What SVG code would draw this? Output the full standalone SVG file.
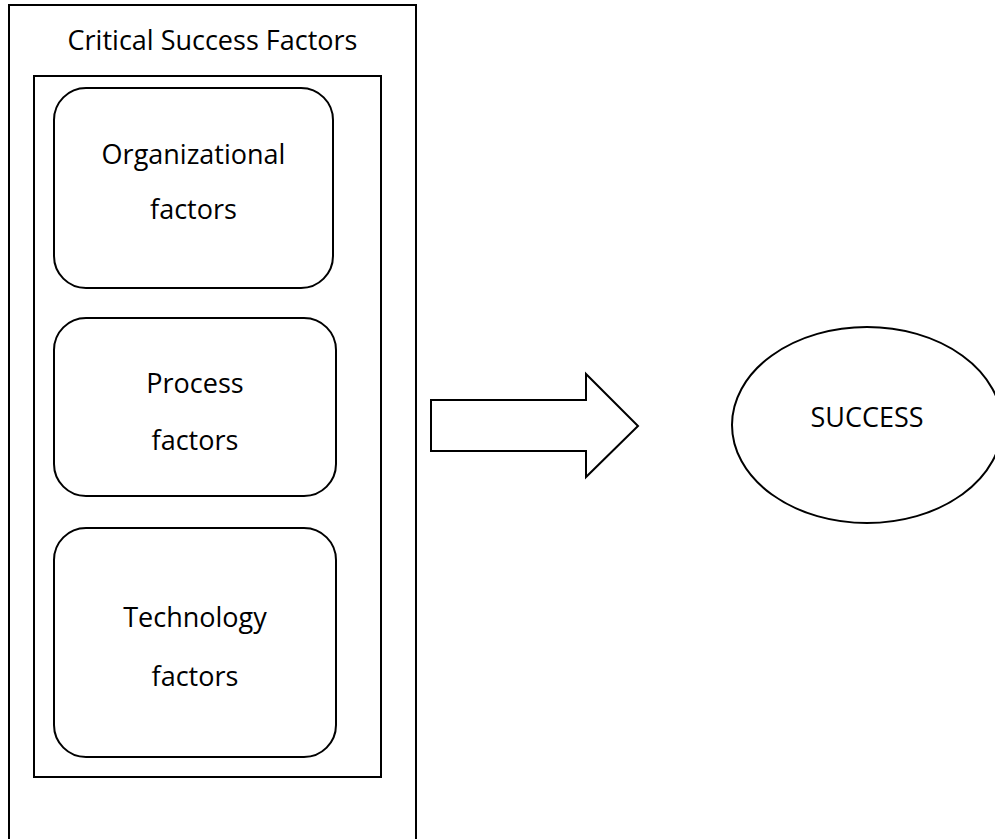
<svg xmlns="http://www.w3.org/2000/svg" width="995" height="839" viewBox="0 0 995 839">
  <style>
    .frame { fill: #ffffff; stroke: #000000; stroke-width: 2; }
    .box { fill: #ffffff; stroke: #000000; stroke-width: 2; }
    .label { font-family: "Open Sans", "Liberation Sans", sans-serif; font-size: 27px; fill: #000000; text-anchor: middle; }
  </style>
  <rect width="995" height="839" fill="#ffffff"/>

  <!-- outer container: open at the bottom edge -->
  <g id="csf-container">
    <rect class="frame" x="9" y="5" width="407" height="850"/>
    <text class="label" x="212.5" y="50">Critical Success Factors</text>
    <rect class="frame" x="34" y="76" width="347" height="701"/>
  </g>

  <g id="organizational">
    <rect class="box" x="54" y="88" width="279" height="200" rx="32" ry="32"/>
    <text class="label" x="193.5" y="164">Organizational</text>
    <text class="label" x="193.5" y="219">factors</text>
  </g>

  <g id="process">
    <rect class="box" x="54" y="318" width="282" height="178" rx="32" ry="32"/>
    <text class="label" x="195" y="393">Process</text>
    <text class="label" x="195" y="450">factors</text>
  </g>

  <g id="technology">
    <rect class="box" x="54" y="528" width="282" height="229" rx="32" ry="32"/>
    <text class="label" x="195" y="627">Technology</text>
    <text class="label" x="195" y="686">factors</text>
  </g>

  <g id="connectors">
    <polygon class="box" points="431,400 586,400 586,374 638,426 586,477 586,451 431,451"/>
  </g>

  <g id="success">
    <ellipse class="box" cx="867" cy="425" rx="135" ry="98"/>
    <text class="label" x="867" y="427">SUCCESS</text>
  </g>
</svg>
